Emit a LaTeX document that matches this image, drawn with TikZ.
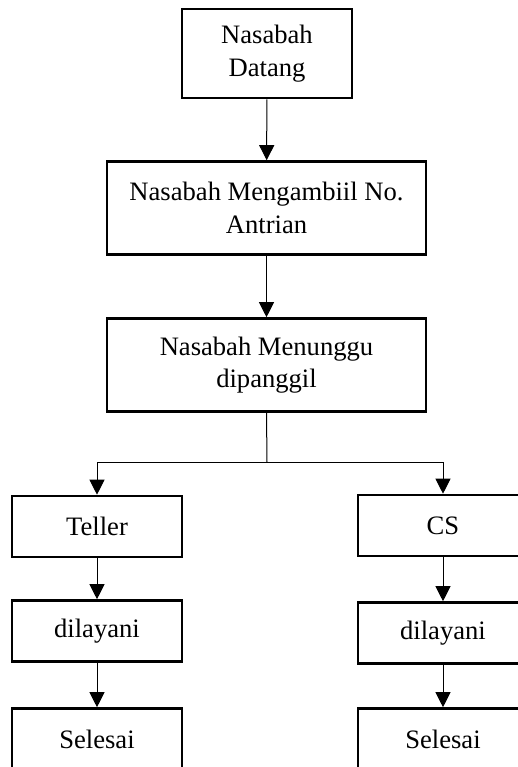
\documentclass[tikz,border=0pt]{standalone}
\usepackage{fontspec}
\setmainfont{Liberation Serif}
\usepackage{tikz}
\usetikzlibrary{arrows.meta, positioning, calc}

\begin{document}
\begin{tikzpicture}[
  x=0.5pt, y=-0.5pt,
  pbox/.style={draw=black, line width=1.3pt, minimum width=85pt,
               minimum height=30.5pt, inner sep=2pt,
               font=\fontsize{13.3}{16.2}\selectfont, text centered, align=center},
  wbox/.style={pbox, minimum width=159.5pt, minimum height=46.5pt},
  arrow/.style={-{Triangle[width=7.5pt,length=7.5pt]}, line width=0.5pt},
]
\clip (0,0) rectangle (518,767);

%% Top: main column
\node[pbox, minimum height=44.5pt] (datang) at (267,53.5) {Nasabah\\Datang};
\node[wbox] (ambil)  at (266.5,208) {Nasabah Mengambiil No.\\Antrian};
\node[wbox] (tunggu) at (266.5,365) {Nasabah Menunggu\\dipanggil};

%% Left: Teller
\node[pbox] (teller)   at (97,526.5) {Teller};
\node[pbox] (layanil)  at (97,631)   {dilayani};
\node[pbox] (selesail) at (97,739)   {Selesai};

%% Right: CS
\node[pbox] (cs)       at (443,525.5) {CS};
\node[pbox] (layanir)  at (443,633)   {dilayani};
\node[pbox] (selesair) at (443,739)   {Selesai};

\coordinate (split) at (267,462);

%% Arrows
\draw[arrow] (datang) -- (ambil);
\draw[arrow] (ambil)  -- (tunggu);
\draw[line width=0.5pt] (tunggu.south) -- (split);
\draw[arrow] (split) -| (teller.north);
\draw[arrow] (split) -| (cs.north);
\draw[arrow] (teller)  -- (layanil);
\draw[arrow] (layanil) -- (selesail);
\draw[arrow] (cs)      -- (layanir);
\draw[arrow] (layanir) -- (selesair);

\end{tikzpicture}
\end{document}
